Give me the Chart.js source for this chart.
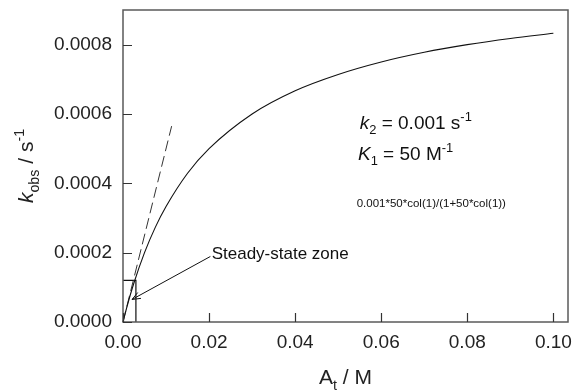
<!DOCTYPE html>
<html>
<head>
<meta charset="utf-8">
<script src="https://cdn.jsdelivr.net/npm/chart.js@4.4.1/dist/chart.umd.min.js"></script>
<style>
  html, body { margin: 0; padding: 0; background: #fff; }
  #wrap { width: 576px; height: 390px; }
</style>
</head>
<body>
<div id="wrap"><canvas id="c" width="576" height="390"></canvas></div>
<script>
// Substrate concentration A_t (M) and observed rate constant k_obs (s^-1)
const concM = [0, 0.001, 0.0025, 0.005, 0.0075, 0.01, 0.015, 0.02, 0.03, 0.04, 0.05, 0.06, 0.07, 0.08, 0.09, 0.1];
const kObs  = [0, 0.0000476, 0.000111, 0.0002, 0.000273, 0.000333, 0.000429, 0.0005, 0.0006, 0.000667, 0.000714, 0.00075, 0.000778, 0.0008, 0.000818, 0.000833];

// Initial-slope tangent (dashed)
const tangentX = [0, 0.0113];
const tangentY = [0, 0.000565];

// Steady-state zone box corner
const zoneX = [0, 0.003, 0.003];
const zoneY = [0.00012, 0.00012, 0];

// Arrow from label to the zone
const arrowX = [0.0203, 0.0021];
const arrowY = [0.000189, 0.000065];

// Axis ticks
const xTicks = [0, 0.02, 0.04, 0.06, 0.08, 0.10];
const xTickLabels = ['0.00', '0.02', '0.04', '0.06', '0.08', '0.10'];
const yTicks = [0, 0.0002, 0.0004, 0.0006, 0.0008];
const yTickLabels = ['0.0000', '0.0002', '0.0004', '0.0006', '0.0008'];

const FONT = '"Liberation Sans", Arial, Helvetica, sans-serif';

const toPts = (xs, ys) => xs.map((x, i) => ({ x: x, y: ys[i] }));

// Draws a run of text pieces with italic / subscript / superscript parts
function richWidth(ctx, parts, size) {
  let w = 0;
  for (const p of parts) {
    const s = (p.sub || p.sup) ? size * 0.68 : size;
    ctx.font = (p.italic ? 'italic ' : '') + s + 'px ' + FONT;
    w += ctx.measureText(p.t).width;
  }
  return w;
}
function drawRich(ctx, parts, x, y, size, align) {
  let cx = x;
  if (align === 'center') cx = x - richWidth(ctx, parts, size) / 2;
  ctx.textBaseline = 'alphabetic';
  ctx.textAlign = 'left';
  for (const p of parts) {
    const s = (p.sub || p.sup) ? size * 0.68 : size;
    ctx.font = (p.italic ? 'italic ' : '') + s + 'px ' + FONT;
    let dy = 0;
    if (p.sub) dy = size * 0.28;
    if (p.sup) dy = -size * 0.42;
    ctx.fillText(p.t, cx, y + dy);
    cx += ctx.measureText(p.t).width;
  }
}

const decorPlugin = {
  id: 'decor',
  afterDatasetsDraw(chart) {
    const ctx = chart.ctx;
    const a = chart.chartArea;
    const xs = chart.scales.x, ys = chart.scales.y;
    ctx.save();
    // frame
    ctx.strokeStyle = '#5a5a5a';
    ctx.lineWidth = 1.5;
    ctx.strokeRect(a.left, a.top, a.right - a.left, a.bottom - a.top);
    // inward ticks
    ctx.strokeStyle = '#333';
    ctx.lineWidth = 1.2;
    ctx.beginPath();
    for (const v of xTicks) {
      const px = Math.round(xs.getPixelForValue(v)) + 0.5;
      ctx.moveTo(px, a.bottom);
      ctx.lineTo(px, a.bottom - 9);
    }
    for (const v of yTicks) {
      const py = Math.round(ys.getPixelForValue(v)) + 0.5;
      ctx.moveTo(a.left, py);
      ctx.lineTo(a.left + 9, py);
    }
    ctx.stroke();

    // arrow head
    const tx = xs.getPixelForValue(arrowX[1]), ty = ys.getPixelForValue(arrowY[1]);
    const fx = xs.getPixelForValue(arrowX[0]), fy = ys.getPixelForValue(arrowY[0]);
    const ang = Math.atan2(ty - fy, tx - fx);
    ctx.strokeStyle = '#111';
    ctx.lineWidth = 1;
    ctx.beginPath();
    ctx.moveTo(tx - 9 * Math.cos(ang - 0.38), ty - 9 * Math.sin(ang - 0.38));
    ctx.lineTo(tx, ty);
    ctx.lineTo(tx - 9 * Math.cos(ang + 0.38), ty - 9 * Math.sin(ang + 0.38));
    ctx.stroke();

    // annotations
    ctx.fillStyle = '#111';
    drawRich(ctx, [{ t: 'Steady-state zone' }], xs.getPixelForValue(0.0206), ys.getPixelForValue(0.0002) + 6, 17);
    drawRich(ctx, [{ t: 'k', italic: true }, { t: '2', sub: true }, { t: ' = 0.001 s' }, { t: '-1', sup: true }],
      xs.getPixelForValue(0.055), ys.getPixelForValue(0.000557), 19);
    drawRich(ctx, [{ t: 'K', italic: true }, { t: '1', sub: true }, { t: ' = 50 M' }, { t: '-1', sup: true }],
      xs.getPixelForValue(0.0546), ys.getPixelForValue(0.000468), 19);
    drawRich(ctx, [{ t: '0.001*50*col(1)/(1+50*col(1))' }],
      xs.getPixelForValue(0.0543), ys.getPixelForValue(0.000333), 11.5);

    // axis titles
    ctx.fillStyle = '#222';
    drawRich(ctx, [{ t: 'A' }, { t: 't', sub: true }, { t: ' / M' }], (a.left + a.right) / 2, 384, 21, 'center');
    ctx.save();
    ctx.translate(33, (a.top + a.bottom) / 2);
    ctx.rotate(-Math.PI / 2);
    drawRich(ctx, [{ t: 'k', italic: true }, { t: 'obs', sub: true }, { t: ' / s' }, { t: '-1', sup: true }], 0, 0, 21, 'center');
    ctx.restore();
    ctx.restore();
  }
};

const lineDs = (pts, extra) => Object.assign({
  data: pts, showLine: true, pointRadius: 0, borderColor: '#111',
  borderWidth: 1, fill: false
}, extra);

new Chart(document.getElementById('c'), {
  type: 'scatter',
  data: {
    datasets: [
      lineDs(toPts(concM, kObs), { cubicInterpolationMode: 'monotone', borderWidth: 1.1 }),
      lineDs(toPts(tangentX, tangentY), { borderDash: [11, 5], borderColor: '#333' }),
      lineDs(toPts(zoneX, zoneY), { borderWidth: 1.2 }),
      lineDs(toPts(arrowX, arrowY), {})
    ]
  },
  options: {
    responsive: false,
    animation: false,
    clip: false,
    layout: { padding: { left: 0, right: 8, top: 10, bottom: 0 } },
    plugins: { legend: { display: false }, tooltip: { enabled: false } },
    scales: {
      x: {
        type: 'linear', min: 0, max: 0.1034,
        afterBuildTicks: s => { s.ticks = xTicks.map(v => ({ value: v })); },
        afterFit: s => { s.height = 68; s.paddingLeft = 0; s.paddingRight = 0; },
        ticks: {
          callback: (v) => xTickLabels[xTicks.indexOf(v)] ?? '',
          font: { family: FONT, size: 19 }, color: '#222', padding: 9, maxRotation: 0
        },
        grid: { drawOnChartArea: false, drawTicks: false },
        border: { display: false }
      },
      y: {
        type: 'linear', min: 0, max: 0.0009,
        afterBuildTicks: s => { s.ticks = yTicks.map(v => ({ value: v })); },
        afterFit: s => { s.width = 123; s.paddingTop = 0; s.paddingBottom = 0; },
        ticks: {
          callback: (v) => yTickLabels[yTicks.indexOf(v)] ?? '',
          font: { family: FONT, size: 19 }, color: '#222', padding: 11
        },
        grid: { drawOnChartArea: false, drawTicks: false },
        border: { display: false }
      }
    }
  },
  plugins: [decorPlugin]
});
</script>
</body>
</html>
